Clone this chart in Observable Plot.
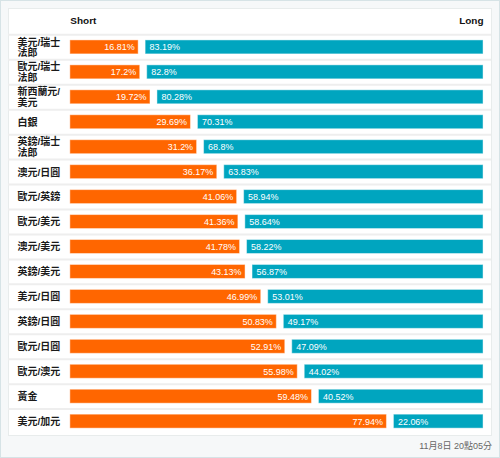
<!DOCTYPE html>
<html>
<head>
<meta charset="utf-8">
<script src="https://cdn.jsdelivr.net/npm/d3@7"></script>
<script src="https://cdn.jsdelivr.net/npm/@observablehq/plot@0.6"></script>
<style>
  html, body { margin: 0; padding: 0; background: #fff; }
  #wrap { position: relative; width: 500px; height: 458px; box-sizing: border-box;
          border: 1px solid #d6e3e6; background: #f6f8f9; overflow: hidden;
          font-family: "Liberation Sans", Arial, "Noto Sans CJK TC", sans-serif; }
  #table { position: absolute; left: 7px; top: 7px; width: 484px; height: 428px;
           box-sizing: border-box; border: 1px solid #e8ecec; background: #fff; }
  #chart { position: absolute; left: -1px; top: -1px; }
  #caption { position: absolute; right: 7px; top: 438px; font-size: 9px; color: #666;
             font-family: "Liberation Sans", Arial, "Noto Sans CJK TC", sans-serif; }
</style>
</head>
<body>
<div id="wrap">
  <div id="table"></div>
  <div id="chart"></div>
  <div id="caption"></div>
</div>
<script>
const categories = ["美元/瑞士法郎","歐元/瑞士法郎","新西蘭元/美元","白銀","英鎊/瑞士法郎","澳元/日圓","歐元/英鎊","歐元/美元","澳元/美元","英鎊/美元","美元/日圓","英鎊/日圓","歐元/日圓","歐元/澳元","黃金","美元/加元"];
const shortValues = [16.81, 17.2, 19.72, 29.69, 31.2, 36.17, 41.06, 41.36, 41.78, 43.13, 46.99, 50.83, 52.91, 55.98, 59.48, 77.94];
const longValues = [83.19, 82.8, 80.28, 70.31, 68.8, 63.83, 58.94, 58.64, 58.22, 56.87, 53.01, 49.17, 47.09, 44.02, 40.52, 22.06];
const headers = ["Short", "Long"];
const captionText = "11月8日 20點05分";

const gap = 1.72;
const total = 100 + gap;
const rows = categories.map((c, i) => ({c, s: shortValues[i], l: longValues[i]}));
const wrapLabel = (t) => t.length > 5 ? t.slice(0, 5) + "\n" + t.slice(5) : t;
const font = `"Liberation Sans", Arial, "Noto Sans CJK TC", sans-serif`;

const chart = Plot.plot({
  width: 500,
  height: 436,
  marginTop: 33,
  marginBottom: 1,
  marginLeft: 8,
  marginRight: 8,
  style: {fontFamily: font, background: "transparent", overflow: "visible"},
  x: {domain: [0, total], range: [70, 484], axis: null},
  y: {domain: categories, paddingInner: 0.44, paddingOuter: 0.22, axis: null},
  marks: [
    Plot.ruleY(categories, {y: d => d, dy: -12.56, stroke: "#eeeeee", strokeWidth: 2}),
    Plot.barX(rows, {y: "c", x1: 0, x2: "s", fill: "#ff6600", stroke: "#ffffff", strokeOpacity: 0.45, strokeWidth: 1}),
    Plot.barX(rows, {y: "c", x1: d => d.s + gap, x2: total, fill: "#00a5bf", stroke: "#ffffff", strokeOpacity: 0.45, strokeWidth: 1}),
    Plot.text(rows, {y: "c", x: "s", text: d => d.s + "%", textAnchor: "end", dx: -4, fill: "#fff", fontSize: 9}),
    Plot.text(rows, {y: "c", x: d => d.s + gap, text: d => d.l + "%", textAnchor: "start", dx: 4, fill: "#fff", fontSize: 9}),
    Plot.text(categories, {y: d => d, text: wrapLabel, frameAnchor: "left", textAnchor: "start", dx: 9, fontSize: 10, lineHeight: 1.05, fill: "#1a1a1a", fontWeight: "bold"}),
    Plot.text([headers[0]], {x: [0], text: d => d, frameAnchor: "top", lineAnchor: "middle", textAnchor: "start", dy: -13, fontSize: 10, fontWeight: "bold", fill: "#111"}),
    Plot.text([headers[1]], {x: [total], text: d => d, frameAnchor: "top", lineAnchor: "middle", textAnchor: "end", dy: -13, fontSize: 10, fontWeight: "bold", fill: "#111"})
  ]
});
document.getElementById("chart").appendChild(chart);
document.getElementById("caption").textContent = captionText;
</script>
</body>
</html>
